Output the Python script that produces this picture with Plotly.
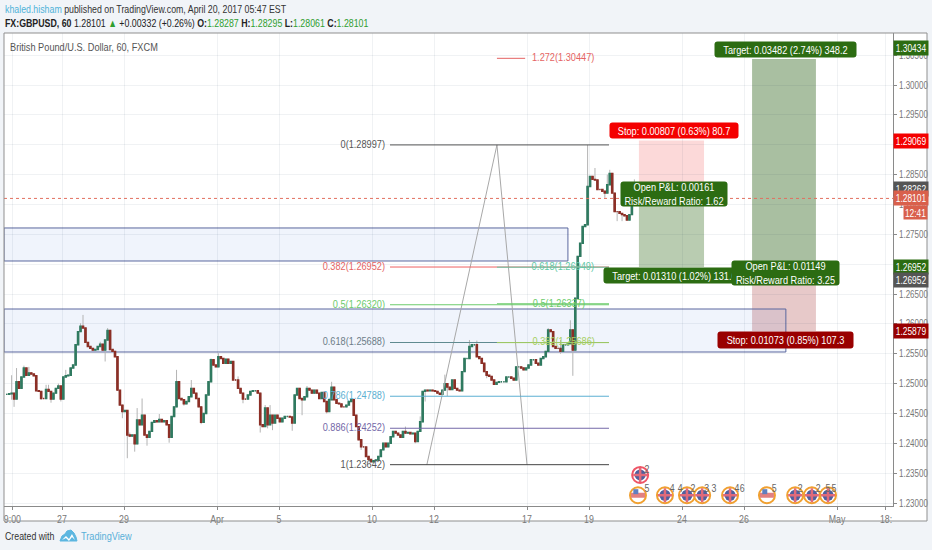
import plotly.graph_objects as go

FONT = "Liberation Sans, Arial, sans-serif"

# Hourly-ish closes, left to right
CLOSE = [
 1.2482,1.2483,1.2484,1.2474,1.2503,1.2492,1.2511,1.2526,1.2514,1.2518,1.2516,1.2513,1.2488,1.2487,1.2475,1.2475,1.2490,1.2487,1.2474,1.2484,1.2492,1.2496,1.2474,1.2511,1.2513,1.2514,1.2526,1.2531,1.2565,1.2587,1.2596,1.2593,1.2569,1.2562,1.2559,1.2556,1.2557,1.2562,1.2566,1.2556,1.2573,1.2589,1.2557,1.2554,1.2545,1.2489,1.2464,1.2453,1.2455,1.2414,1.2412,1.2414,1.2399,1.2439,1.2431,1.2447,1.2414,1.2410,1.2420,1.2435,1.2438,1.2436,1.2440,1.2436,1.2438,1.2431,1.2410,1.2445,1.2461,1.2503,1.2475,1.2473,1.2466,1.2470,1.2478,1.2492,1.2484,1.2475,1.2461,1.2435,1.2450,1.2481,1.2503,1.2540,1.2531,1.2528,1.2545,1.2542,1.2534,1.2541,1.2534,
 1.2537,1.2506,1.2506,1.2492,1.2484,1.2474,1.2474,1.2481,1.2487,1.2488,1.2488,1.2484,1.2431,1.2428,1.2459,1.2431,1.2447,1.2434,1.2447,1.2442,1.2436,1.2442,1.2445,1.2445,1.2444,1.2434,1.2481,1.2492,1.2475,1.2473,1.2478,1.2492,1.2489,1.2484,1.2489,1.2484,1.2475,1.2485,1.2470,1.2453,1.2473,1.2494,1.2473,1.2467,1.2466,1.2461,1.2461,1.2464,1.2470,1.2473,1.2447,1.2428,1.2406,1.2394,1.2394,1.2378,1.2373,1.2369,1.2371,1.2372,1.2378,1.2389,1.2400,1.2394,1.2400,1.2411,1.2420,1.2417,1.2414,1.2410,1.2420,1.2417,1.2418,1.2416,1.2417,1.2403,1.2420,1.2436,1.2487,1.2489,1.2488,1.2489,1.2488,1.2487,1.2484,1.2482,1.2489,1.2500,1.2494,1.2490,1.2506,1.2492,1.2489,
 1.2488,1.2520,1.2542,1.2542,1.2562,1.2565,1.2565,1.2545,1.2542,1.2534,1.2520,1.2514,1.2512,1.2506,1.2499,1.2502,1.2503,1.2503,1.2503,1.2511,1.2511,1.2509,1.2506,1.2528,1.2528,1.2526,1.2523,1.2526,1.2531,1.2540,1.2540,1.2534,1.2531,1.2542,1.2545,1.2554,1.2590,1.2587,1.2562,1.2559,1.2559,1.2554,1.2565,1.2565,1.2567,1.2590,1.2556,
 1.2643,1.2713,1.2735,1.2763,1.2766,1.2830,1.2847,1.2842,1.2841,1.2825,1.2825,1.2822,1.2819,1.2833,1.2852,1.2819,1.2788,1.2788,1.2785,1.2783,1.2781,1.2774,1.2783,1.2799,1.2819,1.2833,1.28101,
]
WICK_TOP_BAR = [2,4,7,9,12,16,17,21,24,30,31,38,41,47,50,53,55,62,69,75,79,83,86,94,105,107,122,132,162,168,178,188,191,220,225,229,236,239,244,245,255]
WICK_TOP = [1.2514,1.2526,1.2530,1.2528,1.2500,1.2498,1.2498,1.2500,1.2523,1.2601,1.2615,1.2570,1.2593,1.2459,1.2418,1.2459,1.2475,1.2449,1.2523,1.2506,1.2456,1.2542,1.2551,1.2512,1.2464,1.2464,1.2496,1.2503,1.2428,1.2445,1.2515,1.2573,1.2572,1.2593,1.2573,1.2606,1.28997,1.2861,1.2850,1.2858,1.2842]
WICK_LOW_BAR = [2,3,14,18,22,40,47,49,52,57,66,72,79,81,96,103,106,108,116,120,130,144,166,170,179,195,225,230,243,248,250]
WICK_LOW = [1.2473,1.2461,1.2473,1.2468,1.2470,1.2537,1.2442,1.2375,1.2386,1.2396,1.2401,1.2463,1.2432,1.2453,1.2467,1.2418,1.2425,1.2422,1.2421,1.2447,1.2450,1.2389,1.2400,1.2470,1.2479,1.2509,1.2550,1.2513,1.2811,1.2772,1.2772]

BAR_START_DAY = -1.784
BAR_STEP_DAY = 0.0794

# First Fibonacci set
FIB_A_NAMES = ["0(1.28997)","0.382(1.26952)","0.5(1.26320)","0.618(1.25688)","0.786(1.24788)","0.886(1.24252)","1(1.23642)"]
FIB_A_LEVELS = [1.28997,1.26952,1.26320,1.25688,1.24788,1.24252,1.23642]
FIB_A_COLORS = ["#555555","#ee5f5f","#6ccb6c","#5f8a90","#5cb0d2","#7468a8","#444444"]
FIB_A_TEXT = ["#555555","#e56363","#6ccb6c","#6d7d88","#5cb0d2","#7468a8","#555555"]
# Second Fibonacci set
FIB_B_NAMES = ["0.618(1.26949)","0.5(1.26337)","0.382(1.25686)"]
FIB_B_LEVELS = [1.26949,1.26337,1.25686]
FIB_B_COLORS = ["#62c9a5","#6ccb6c","#a5cf60"]
FIB_B_LABEL_X = [17.16,16.87,17.19]
FIB_C_NAME = "1.272(1.30447)"
FIB_C_LEVEL = 1.30447

TRI_X = [11.77,14.03,15.0]
TRI_Y = [1.23642,1.28997,1.23642]

Y_TICKS = [1.23,1.235,1.24,1.245,1.25,1.255,1.26,1.265,1.27,1.275,1.28,1.285,1.29,1.295,1.30,1.305]
X_TICKS = [-1.6,0,2,5,7,10,12,15,17,20,22,25,26.58]
X_LABELS = ["9:00","27","29","Apr","5","10","12","17","19","24","26","May","18:"]

UK_DAYS = [19.45,20.16,20.65,21.55,23.65,24.19,24.71,18.65]
UK_PRICES = [1.2313,1.2313,1.2313,1.2313,1.2313,1.2313,1.2313,1.2347]
UK_RINGS = ["#f0a030"]*7 + ["#ee5566"]
US_DAYS = [18.58,22.74]
US_PRICES = [1.2313,1.2313]
EVENT_TEXT_DAYS = [18.87,19.68,19.94,20.35,20.80,21.03,21.77,21.94,22.97,23.81,24.39,24.71,24.90,18.87]
EVENT_TEXT_PRICES = [1.23234]*13 + [1.23553]
EVENT_TEXTS = ["5","4","4","2","3","3","4","6","5","2","2","5","5","2"]

X0, X1 = -1.871, 26.806
Y0, Y1 = 1.2295, 1.30871
L, R, T, B = 4, 893, 33, 506
def px(x): return (x - L) / (R - L)
def py(y): return (B - y) / (B - T)

OPEN = [CLOSE[0]] + CLOSE[:-1]
HIGH = [max(o, c) for o, c in zip(OPEN, CLOSE)]
LOW = [min(o, c) for o, c in zip(OPEN, CLOSE)]
WH = list(HIGH); WL = list(LOW)
for i, v in zip(WICK_TOP_BAR, WICK_TOP): WH[i] = max(WH[i], v)
for i, v in zip(WICK_LOW_BAR, WICK_LOW): WL[i] = min(WL[i], v)
XS = [BAR_START_DAY + i * BAR_STEP_DAY for i in range(len(CLOSE))]

fig = go.Figure()
# grey wicks under the coloured bodies
fig.add_trace(go.Candlestick(x=XS, open=OPEN, high=WH, low=WL, close=CLOSE, whiskerwidth=0,
    increasing=dict(line=dict(color="#b4b4b4", width=1), fillcolor="#b4b4b4"),
    decreasing=dict(line=dict(color="#b4b4b4", width=1), fillcolor="#b4b4b4"), hoverinfo="skip", showlegend=False))
fig.add_trace(go.Candlestick(x=XS, open=OPEN, high=HIGH, low=LOW, close=CLOSE, whiskerwidth=0,
    increasing=dict(line=dict(color="#2f7a60", width=1.4), fillcolor="#2f7a60"),
    decreasing=dict(line=dict(color="#8c2f26", width=1.4), fillcolor="#8c2f26"), hoverinfo="skip", showlegend=False))

fig.add_trace(go.Scatter(x=[X0, X1], y=[CLOSE[-1]]*2, mode="lines", line=dict(color="#e2705f", width=1, dash="dot"), showlegend=False))
fig.add_trace(go.Scatter(x=TRI_X, y=TRI_Y, mode="lines", line=dict(color="#a8a8a8", width=1), showlegend=False))

for n, v, c, t in zip(FIB_A_NAMES, FIB_A_LEVELS, FIB_A_COLORS, FIB_A_TEXT):
    fig.add_trace(go.Scatter(x=[10.58, 17.645], y=[v, v], mode="lines", line=dict(color=c, width=1), showlegend=False))
    fig.add_trace(go.Scatter(x=[10.42], y=[v], mode="text", text=[n], textposition="middle left",
                             textfont=dict(color=t, size=11.5, family=FONT), showlegend=False))
for n, v, c, lx in zip(FIB_B_NAMES, FIB_B_LEVELS, FIB_B_COLORS, FIB_B_LABEL_X):
    fig.add_trace(go.Scatter(x=[14.03, 17.645], y=[v, v], mode="lines", line=dict(color=c, width=1), showlegend=False))
    fig.add_trace(go.Scatter(x=[lx], y=[v], mode="text", text=[n], textposition="middle left",
                             textfont=dict(color=c, size=11.5, family=FONT), showlegend=False))
fig.add_trace(go.Scatter(x=[14.03, 14.94], y=[FIB_C_LEVEL]*2, mode="lines", line=dict(color="#e56363", width=1), showlegend=False))
fig.add_trace(go.Scatter(x=[15.16], y=[FIB_C_LEVEL], mode="text", text=[FIB_C_NAME], textposition="middle right",
                         textfont=dict(color="#e56363", size=11.5, family=FONT), showlegend=False))

# economic event bubbles
fig.add_trace(go.Scatter(x=UK_DAYS, y=UK_PRICES, mode="markers", showlegend=False,
    marker=dict(size=16, color="rgba(255,255,255,0.9)", line=dict(width=2, color=UK_RINGS))))
fig.add_trace(go.Scatter(x=UK_DAYS, y=UK_PRICES, mode="markers", showlegend=False,
    marker=dict(size=11, color="#4f5f9e")))
fig.add_trace(go.Scatter(x=UK_DAYS, y=UK_PRICES, mode="markers", showlegend=False,
    marker=dict(size=10, symbol="cross-thin", color="#e06a7a", line=dict(width=2.5, color="#e06a7a"))))
fig.add_trace(go.Scatter(x=US_DAYS, y=US_PRICES, mode="markers", showlegend=False,
    marker=dict(size=16, color="rgba(255,255,255,0.9)", line=dict(width=2, color="#f0a030"))))
fig.add_trace(go.Scatter(x=US_DAYS, y=US_PRICES, mode="markers", showlegend=False,
    marker=dict(size=10, symbol="line-ew", line=dict(width=5, color="#e28080"))))
fig.add_trace(go.Scatter(x=[d - 0.07 for d in US_DAYS], y=[p + 0.0006 for p in US_PRICES], mode="markers", showlegend=False,
    marker=dict(size=5, symbol="square", color="#5f7fc0")))
fig.add_trace(go.Scatter(x=EVENT_TEXT_DAYS, y=EVENT_TEXT_PRICES, mode="text", text=EVENT_TEXTS, showlegend=False,
    textfont=dict(size=11, color="#666666", family=FONT)))

shapes = [
 dict(type="rect", xref="paper", yref="paper", x0=0, x1=px(927), y0=py(521), y1=1, fillcolor="#ffffff", line_width=0, layer="below"),
 dict(type="rect", xref="x", yref="y", x0=X0, x1=16.32, y0=1.27053, y1=1.27606, fillcolor="rgba(90,130,220,0.09)", line=dict(color="#5a679e", width=1), layer="below"),
 dict(type="rect", xref="x", yref="y", x0=18.61, x1=20.71, y0=1.28262, y1=1.29069, fillcolor="rgba(240,80,80,0.22)", line_width=0, layer="below"),
 dict(type="rect", xref="x", yref="y", x0=18.61, x1=20.71, y0=1.26952, y1=1.28262, fillcolor="rgba(60,115,40,0.36)", line_width=0, layer="below"),
 dict(type="rect", xref="x", yref="y", x0=22.26, x1=24.32, y0=1.26952, y1=1.30434, fillcolor="rgba(60,110,40,0.44)", line_width=0, layer="below"),
 dict(type="rect", xref="x", yref="y", x0=22.26, x1=24.32, y0=1.25879, y1=1.26952, fillcolor="rgba(170,60,60,0.28)", line_width=0, layer="below"),
 dict(type="rect", xref="x", yref="y", x0=X0, x1=23.35, y0=1.25529, y1=1.26249, fillcolor="rgba(90,130,220,0.09)", line=dict(color="#5a679e", width=1), layer="below"),
 # outer frame
 dict(type="rect", xref="paper", yref="paper", x0=0, x1=px(927), y0=py(521), y1=1, line=dict(color="#8f8f8f", width=1), fillcolor="rgba(0,0,0,0)", layer="above"),
]
# TradingView logo
def pts(p): return "M" + " L".join(f"{px(a):.5f},{py(b):.5f}" for a, b in p) + " Z"
shapes.append(dict(type="path", xref="paper", yref="paper", layer="above", fillcolor="#5cb6e0", line=dict(color="#5cb6e0", width=1),
                   path=pts([(60,541),(62,536),(65,534),(67,531),(71,530),(74,533),(76,537),(77,541)])))
shapes.append(dict(type="path", xref="paper", yref="paper", layer="above", fillcolor="#ffffff", line_width=0,
                   path=pts([(62,540),(66,536),(69,539),(72,534),(75,540),(72,537),(69,541),(66,538)])))

ann = []
def box(text, x, y, bg, w, h, size=11.5):
    ann.append(dict(x=x, y=y, xref="x", yref="y", text=text, showarrow=False, bgcolor=bg, width=w, height=h,
                    align="center", font=dict(color="white", size=size, family=FONT), borderpad=0))
box("Target: 0.03482 (2.74%) 348.2", 23.35, 1.30587, "#2c6c12", 141, 15)
box("Stop: 0.00807 (0.63%) 80.7", 19.74, 1.2923, "#f40000", 128, 15)
box("Open P&amp;L: 0.00161<br>Risk/Reward Ratio: 1.62", 19.74, 1.28167, "#2c6c12", 106, 24)
box("Target: 0.01310 (1.02%) 131.0", 19.77, 1.26802, "#2c6c12", 141, 15)
box("Open P&amp;L: 0.01149<br>Risk/Reward Ratio: 3.25", 23.35, 1.26852, "#2c6c12", 107, 24)
box("Stop: 0.01073 (0.85%) 107.3", 23.35, 1.2573, "#990000", 135, 16)

def plabel(text, y, bg, yshift=0):
    ann.append(dict(x=1, xshift=17.5, xanchor="center", y=y, xref="paper", yref="y", yshift=yshift, text=text, showarrow=False, bgcolor=bg,
                    width=34, height=14, font=dict(color="white", size=10.5, family=FONT), borderpad=0))
plabel("1.30434", 1.30434, "#2c6c12", 11)
plabel("1.29069", 1.29069, "#f40000")
plabel("1.28262", 1.28262, "#555555")
plabel("1.28101", 1.28101, "#d9604c")
plabel("1.26952", 1.26952, "#2c6c12")
plabel("1.26952", 1.26952, "#555555", -13)
plabel("1.25879", 1.25879, "#990000")
ann.append(dict(x=1, xshift=22.5, xanchor="center", y=1.28101, xref="paper", yref="y", yshift=-14, text="12:41", showarrow=False, bgcolor="#d9604c",
                width=23, height=13, font=dict(color="white", size=10.5, family=FONT), borderpad=0))

def text(s, x, y, size=11, color="#333333", family=FONT, anchor="left"):
    ann.append(dict(x=px(x), y=py(y), xref="paper", yref="paper", text=s, showarrow=False, xanchor=anchor, yanchor="middle",
                    align="left", font=dict(size=size, color=color, family=family)))
text('<span style="color:#4fb3d9">khaled.hisham</span> published on TradingView.com, April 20, 2017 05:47 EST', 3, 9, 11)
text('<b>FX:GBPUSD, 60</b> 1.28101 <span style="color:#2f9e2f">▲</span> +0.00332 (+0.26%) <b>O:</b><span style="color:#2f9e2f">1.28287</span> <b>H:</b><span style="color:#2f9e2f">1.28295</span> <b>L:</b><span style="color:#2f9e2f">1.28061</span> <b>C:</b><span style="color:#2f9e2f">1.28101</span>', 3, 23, 11, "#222222")
text("British Pound/U.S. Dollar, 60, FXCM", 8, 47, 11.5, "#555555")
text("Created with", 3, 536, 11, "#333333")
text("TradingView", 79, 536, 11.5, "#59b0d8")

GRID = "rgba(0,30,70,0.06)"
fig.update_layout(
    width=932, height=550, autosize=False,
    margin=dict(l=L, r=932 - R, t=T, b=550 - B, pad=0, autoexpand=False),
    paper_bgcolor="#f1f4f8", plot_bgcolor="rgba(0,0,0,0)",
    showlegend=False, shapes=shapes, annotations=ann,
    font=dict(family=FONT, size=10.5, color="#777777"),
    xaxis=dict(range=[X0, X1], rangeslider=dict(visible=False), tickmode="array", tickvals=X_TICKS, ticktext=X_LABELS,
               showgrid=True, gridcolor=GRID, gridwidth=1, zeroline=False, showline=True, linecolor="#8a8a8a", linewidth=1,
               ticks="outside", ticklen=3, tickcolor="#8a8a8a", tickfont=dict(size=11, color="#777777", family=FONT)),
    yaxis=dict(range=[Y0, Y1], side="right", tickmode="array", tickvals=Y_TICKS, tickformat=".5f",
               showgrid=True, gridcolor=GRID, gridwidth=1, zeroline=False, showline=True, linecolor="#8a8a8a", linewidth=1,
               ticks="outside", ticklen=3, tickcolor="#8a8a8a", tickfont=dict(size=10, color="#777777", family=FONT)),
)

# The reference's lettering is condensed horizontally; no narrow face is installed, so condense the real text.
SQUEEZE = """
document.body.style.margin='0';document.body.style.overflow='hidden';document.body.style.background='#f1f4f8';
function squeeze(){document.querySelectorAll('svg text').forEach(function(t){
  if(t.hasAttribute('textLength'))return;var w=t.getComputedTextLength();if(!w)return;
  t.setAttribute('lengthAdjust','spacingAndGlyphs');t.setAttribute('textLength',(w*0.8).toFixed(1));});
 document.querySelectorAll('.annotation rect.bg').forEach(function(r){if(+r.getAttribute('width')>40)r.setAttribute('rx','3');});}
squeeze();setTimeout(squeeze,100);
"""
fig.write_html("out.html", config=dict(displayModeBar=False), post_script=SQUEEZE)
